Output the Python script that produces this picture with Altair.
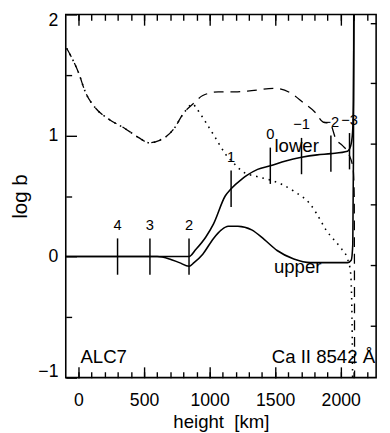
import altair as alt
import pandas as pd

# ---- data ----
# lower and upper level of Ca II 8542 (solid)
lower_h = [-97, 600, 746, 843, 896, 970, 1030, 1119, 1164, 1246, 1284, 1366, 1463, 1580, 1701, 1820, 1925, 2052, 2075, 2090, 2097, 2100, 2102]
lower_v = [0.0, 0.0, 0.0, 0.0, 0.06, 0.16, 0.27, 0.50, 0.56, 0.64, 0.67, 0.72, 0.75, 0.79, 0.82, 0.84, 0.85, 0.87, 0.91, 1.02, 1.3, 1.8, 2.3]
upper_h = [-97, 600, 694, 769, 843, 881, 948, 1030, 1090, 1142, 1216, 1321, 1418, 1515, 1642, 1769, 1918, 2052, 2080, 2092, 2097, 2100]
upper_v = [0.0, 0.0, -0.02, -0.05, -0.08, -0.05, 0.02, 0.15, 0.22, 0.25, 0.25, 0.22, 0.14, 0.05, -0.02, -0.05, -0.05, -0.05, -0.03, 0.10, 0.8, 2.3]

# dashed and dotted coincide on the left (looks dash-dot)
common_h = [-90, -60, 0, 52, 127, 224, 351, 463, 537, 619, 724, 806, 873]
common_v = [1.72, 1.66, 1.52, 1.36, 1.23, 1.14, 1.06, 0.98, 0.94, 0.96, 1.05, 1.19, 1.26]
dashed_h = [948, 1067, 1194, 1321, 1493, 1619, 1716, 1806, 1866, 1918, 1963, 2010, 2060, 2095, 2103, 2106]
dashed_v = [1.33, 1.36, 1.36, 1.37, 1.39, 1.35, 1.27, 1.19, 1.11, 1.10, 0.97, 0.92, 0.85, 0.72, 0.5, -1.2]
dotted_h = [896, 970, 1045, 1119, 1194, 1254, 1366, 1470, 1545, 1642, 1769, 1813, 1888, 1993, 2052, 2075, 2086, 2092]
dotted_v = [1.23, 1.11, 0.98, 0.85, 0.76, 0.70, 0.66, 0.63, 0.60, 0.54, 0.43, 0.36, 0.22, 0.08, -0.02, -0.13, -0.5, -1.2]

# log tau markers on the lower curve
tau_labels = ["4", "3", "2", "1", "0", "\u22121", "\u22122", "\u22123"]
tau_h = [298, 545, 843, 1164, 1463, 1701, 1925, 2067]
tau_v = [0.0, 0.0, 0.0, 0.56, 0.75, 0.83, 0.85, 0.87]

# annotations
ann_text = ["lower", "upper"]
ann_h = [1664, 1672]
ann_v = [0.91, -0.09]
corner_left = ["ALC7"]
corner_right = ["Ca II 8542 \u00c5"]
corner_left_h = [15]
corner_right_h = [2262]
corner_v = [-0.83]

x_major = [0, 500, 1000, 1500, 2000]
x_minor = list(range(0, 2201, 100))
y_major = [-1, 0, 1, 2]
y_minor = [-0.5, 0.5, 1.5]
y_right = [1.93, 1.43, 0.93, 0.43, -0.07, -0.57]

X_DOMAIN = [-97, 2270]
Y_DOMAIN = [-1, 2]

# ---- tables ----
solid = pd.DataFrame({
    "h": lower_h + upper_h,
    "v": lower_v + upper_v,
    "s": ["lower"] * len(lower_h) + ["upper"] * len(upper_h),
})
dashed = pd.DataFrame({"h": common_h + dashed_h, "v": common_v + dashed_v})
dotted = pd.DataFrame({"h": common_h + dotted_h, "v": common_v + dotted_v})
taus = pd.DataFrame({"lab": tau_labels, "h": tau_h, "v": tau_v})
ann = pd.DataFrame({"t": ann_text, "h": ann_h, "v": ann_v})
cl = pd.DataFrame({"t": corner_left, "h": corner_left_h, "v": corner_v})
cr = pd.DataFrame({"t": corner_right, "h": corner_right_h, "v": corner_v})

FONT = "Liberation Sans"


def xs():
    return alt.Scale(domain=X_DOMAIN, nice=False, zero=False)


def ys():
    return alt.Scale(domain=Y_DOMAIN, nice=False, zero=False)


def ax(orient, values, size, labels=False, title=None, **kw):
    return alt.Axis(orient=orient, values=values, tickSize=size, offset=-size,
                    labels=labels, domain=False, grid=False, title=title, **kw)


solid_layer = alt.Chart(solid).mark_line(
    color="black", strokeWidth=1.6, clip=True, interpolate="monotone"
).encode(
    x=alt.X("h:Q", scale=xs(), axis=ax("bottom", x_major, 11, labels=True,
                                      title="height\u00a0\u00a0[km]", labelPadding=14,
                                      titlePadding=4, format="d")),
    y=alt.Y("v:Q", scale=ys(), axis=ax("left", y_major, 11, labels=True,
                                      title="log b", labelPadding=8,
                                      titlePadding=8, labelFlush=True,
                                      labelFlushOffset=3,
                                      titleFontSize=21)),
    detail="s:N",
)

dashed_layer = alt.Chart(dashed).mark_line(
    color="black", strokeWidth=1.3, strokeDash=[10, 7], clip=True, interpolate="monotone"
).encode(
    x=alt.X("h:Q", scale=xs(), axis=ax("top", x_major, 11)),
    y=alt.Y("v:Q", scale=ys(), axis=ax("right", y_right, 6)),
)

dotted_layer = alt.Chart(dotted).mark_line(
    color="black", strokeWidth=1.6, strokeDash=[1.6, 5], clip=True, interpolate="monotone"
).encode(
    x=alt.X("h:Q", scale=xs(), axis=ax("bottom", x_minor, 6)),
    y=alt.Y("v:Q", scale=ys(), axis=ax("left", y_minor, 6)),
)

tau_rules = alt.Chart(taus).transform_calculate(
    lo="datum.v - 0.15", hi="datum.v + 0.15"
).mark_rule(color="black", strokeWidth=1.5).encode(
    x=alt.X("h:Q", scale=xs(), axis=ax("top", x_minor, 6)),
    y=alt.Y("lo:Q", scale=ys(), axis=None),
    y2="hi:Q",
)

tau_text = alt.Chart(taus).transform_calculate(
    ty="datum.v + 0.26"
).mark_text(font=FONT, fontSize=15, color="black", baseline="middle", align="center").encode(
    x=alt.X("h:Q", scale=xs(), axis=None),
    y=alt.Y("ty:Q", scale=ys(), axis=None),
    text="lab:N",
)

ann_layer = alt.Chart(ann).mark_text(
    font=FONT, fontSize=19, color="black", baseline="middle", align="center"
).encode(
    x=alt.X("h:Q", scale=xs(), axis=None),
    y=alt.Y("v:Q", scale=ys(), axis=None),
    text="t:N",
)

cl_layer = alt.Chart(cl).mark_text(
    font=FONT, fontSize=19, color="black", baseline="middle", align="left"
).encode(
    x=alt.X("h:Q", scale=xs(), axis=None),
    y=alt.Y("v:Q", scale=ys(), axis=None),
    text="t:N",
)

cr_layer = alt.Chart(cr).mark_text(
    font=FONT, fontSize=19, color="black", baseline="middle", align="right"
).encode(
    x=alt.X("h:Q", scale=xs(), axis=None),
    y=alt.Y("v:Q", scale=ys(), axis=None),
    text="t:N",
)

chart = alt.layer(
    solid_layer, dashed_layer, dotted_layer, tau_rules, tau_text, ann_layer, cl_layer, cr_layer
).resolve_axis(
    x="independent", y="independent"
).properties(
    width=317, height=371,
    autosize=alt.AutoSizeParams(type="none"),
    padding={"left": 59, "top": 2, "right": 6, "bottom": 52},
).configure_view(
    stroke="black", strokeWidth=1.6
).configure_axis(
    tickColor="black", tickWidth=1.4, labelColor="black", titleColor="black",
    labelFont=FONT, titleFont=FONT, labelFontSize=18, titleFontSize=19,
    titleFontWeight="normal",
)

chart.save("out.html", embed_options={"renderer": "svg", "actions": False})
